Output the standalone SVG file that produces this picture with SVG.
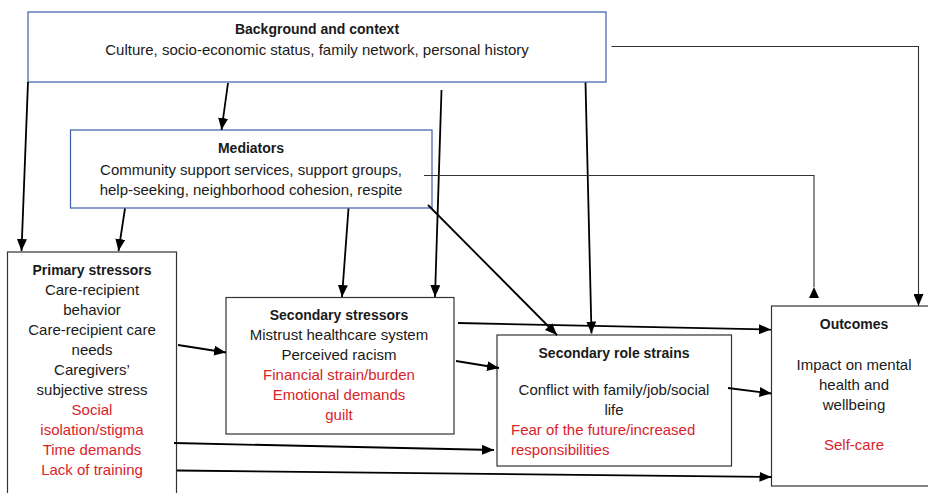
<svg xmlns="http://www.w3.org/2000/svg" width="928" height="493" viewBox="0 0 928 493">
  <style>
    text { font-family: "Liberation Sans", Arial, sans-serif; font-size: 15px; fill: #1a1a1a; }
    .t { font-weight: bold; font-size: 14px; text-anchor: middle; }
    .c { text-anchor: middle; }
    .red { fill: #d9232b; }
    .boxb { fill: #ffffff; stroke: #3b5ea8; stroke-width: 1.2; }
    .boxk { fill: #ffffff; stroke: #333333; stroke-width: 1.2; }
    .arr { fill: none; stroke: #000000; stroke-width: 1.8; marker-end: url(#ah); }
    .thin { fill: none; stroke: #333333; stroke-width: 1.1; }
  </style>
  <defs>
    <marker id="ah" viewBox="0 0 12 10" refX="12" refY="5" markerWidth="12" markerHeight="10" markerUnits="userSpaceOnUse" orient="auto">
      <path d="M0,0 L12,5 L0,10 z" fill="#000000"/>
    </marker>
    <marker id="ahRev" viewBox="0 0 11 10" refX="0" refY="5" markerWidth="11" markerHeight="10" markerUnits="userSpaceOnUse" orient="auto">
      <path d="M0,5 L11,0 L11,10 z" fill="#000000"/>
    </marker>
  </defs>

  <rect width="928" height="493" fill="#ffffff"/>

  <!-- nodes -->
  <g id="background">
    <rect class="boxb" x="28" y="12" width="578" height="70"/>
    <text class="t" x="317" y="34">Background and context</text>
    <text class="c" x="317" y="54.5">Culture, socio-economic status, family network, personal history</text>
  </g>

  <g id="mediators">
    <rect class="boxb" x="70.5" y="130" width="361.5" height="78"/>
    <text class="t" x="251" y="153">Mediators</text>
    <text class="c" x="251" y="175">Community support services, support groups,</text>
    <text class="c" x="251" y="195">help-seeking, neighborhood cohesion, respite</text>
  </g>

  <g id="primary-stressors">
    <rect class="boxk" x="7.5" y="252" width="169" height="250"/>
    <text class="t" x="92" y="275">Primary stressors</text>
    <text class="c" x="92" y="295">Care-recipient</text>
    <text class="c" x="92" y="315">behavior</text>
    <text class="c" x="92" y="335">Care-recipient care</text>
    <text class="c" x="92" y="355">needs</text>
    <text class="c" x="92" y="375">Caregivers’</text>
    <text class="c" x="92" y="395">subjective stress</text>
    <text class="c red" x="92" y="415">Social</text>
    <text class="c red" x="92" y="435">isolation/stigma</text>
    <text class="c red" x="92" y="455">Time demands</text>
    <text class="c red" x="92" y="475">Lack of training</text>
  </g>

  <g id="secondary-stressors">
    <rect class="boxk" x="226" y="297.5" width="228" height="136.5"/>
    <text class="t" x="339" y="320">Secondary stressors</text>
    <text class="c" x="339" y="340">Mistrust healthcare system</text>
    <text class="c" x="339" y="360">Perceived racism</text>
    <text class="c red" x="339" y="380">Financial strain/burden</text>
    <text class="c red" x="339" y="400">Emotional demands</text>
    <text class="c red" x="339" y="420">guilt</text>
  </g>

  <g id="secondary-role-strains">
    <rect class="boxk" x="497" y="335" width="234.5" height="131"/>
    <text class="t" x="614" y="358">Secondary role strains</text>
    <text class="c" x="614" y="395">Conflict with family/job/social</text>
    <text class="c" x="614" y="415">life</text>
    <text class="red" x="511" y="435">Fear of the future/increased</text>
    <text class="red" x="511" y="455">responsibilities</text>
  </g>

  <g id="outcomes">
    <rect class="boxk" x="771.5" y="306" width="170" height="180"/>
    <text class="t" x="854" y="329">Outcomes</text>
    <text class="c" x="854" y="370">Impact on mental</text>
    <text class="c" x="854" y="390">health and</text>
    <text class="c" x="854" y="410">wellbeing</text>
    <text class="c red" x="854" y="450">Self-care</text>
  </g>

  <!-- connectors -->
  <g id="connectors">
    <!-- from background and context -->
    <line class="arr" x1="28" y1="82" x2="21.5" y2="251"/>
    <line class="arr" x1="228" y1="83" x2="221.5" y2="130"/>
    <line class="arr" x1="441.5" y1="90" x2="435" y2="297"/>
    <line class="arr" x1="585.5" y1="82.5" x2="591.5" y2="333.5"/>
    <polyline class="thin" points="611.5,46.5 918.5,46.5 918.5,306" marker-end="url(#ah)"/>

    <!-- from mediators -->
    <line class="arr" x1="125" y1="208.5" x2="118.5" y2="251"/>
    <line class="arr" x1="348.5" y1="208.5" x2="342" y2="297"/>
    <line class="arr" x1="428" y1="205" x2="557" y2="335"/>
    <polyline class="thin" points="424,175.5 814,175.5 814,287" marker-end="url(#ahRev)"/>

    <!-- from primary stressors -->
    <line class="arr" x1="178" y1="345" x2="226" y2="352.5"/>
    <line class="arr" x1="174" y1="443" x2="494" y2="450"/>
    <line class="arr" x1="177" y1="470.5" x2="771.5" y2="477"/>

    <!-- from secondary stressors -->
    <line class="arr" x1="458" y1="323" x2="771" y2="329.5"/>
    <line class="arr" x1="456" y1="361" x2="499" y2="368"/>

    <!-- from secondary role strains -->
    <line class="arr" x1="728" y1="388" x2="771.5" y2="393.5"/>
  </g>
</svg>
